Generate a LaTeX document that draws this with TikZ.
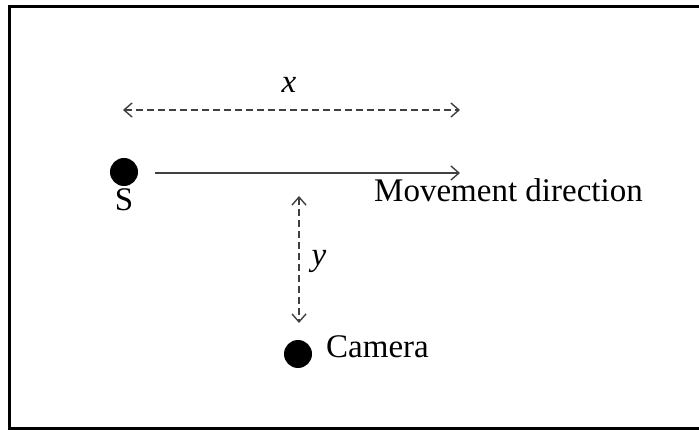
\documentclass[tikz,border=0pt]{standalone}
\usepackage{fontspec}
\setmainfont{Liberation Serif}
\usetikzlibrary{arrows.meta}
\begin{document}
\begin{tikzpicture}[x=1pt,y=-1pt,
  dot/.style={circle,fill=black,inner sep=0pt,minimum size=28pt},
  lbl/.style={inner sep=0pt,font=\fontsize{33}{37}\selectfont},
  arr/.style={draw=black!75,line width=1.4pt,-{Straight Barb[length=8pt,width=14pt,line width=1.4pt]}},
  darr/.style={arr,{Straight Barb[length=8pt,width=14pt,line width=1.4pt]}-{Straight Barb[length=8pt,width=14pt,line width=1.4pt]},dash pattern=on 7pt off 4pt}]
\useasboundingbox (0,0) rectangle (699,430);
\draw[line width=3pt] (720,6.5) -- (9.5,6.5) -- (9.5,428.5) -- (720,428.5);
\node[dot] (s) at (124,172) {};
\node[dot] (cam) at (298,354) {};
\node[lbl,anchor=base] (slbl) at (124,211) {S};
\node[lbl,anchor=base west] (mov) at (374,202) {Movement direction};
\node[lbl,anchor=base west] (camlbl) at (326,358) {Camera};
\node[lbl,anchor=base] (xlbl) at (289,93) {\itshape x};
\node[lbl,anchor=base] (ylbl) at (319,266) {\itshape y};
\coordinate (xa) at (123,110);
\coordinate (xb) at (460,110);
\coordinate (ma) at (155,173);
\coordinate (mb) at (460,173);
\coordinate (ya) at (299,196);
\coordinate (yb) at (299,323);
\draw[darr] (xa) -- (xb);
\draw[arr] (ma) -- (mb);
\draw[darr] (ya) -- (yb);
\end{tikzpicture}
\end{document}
